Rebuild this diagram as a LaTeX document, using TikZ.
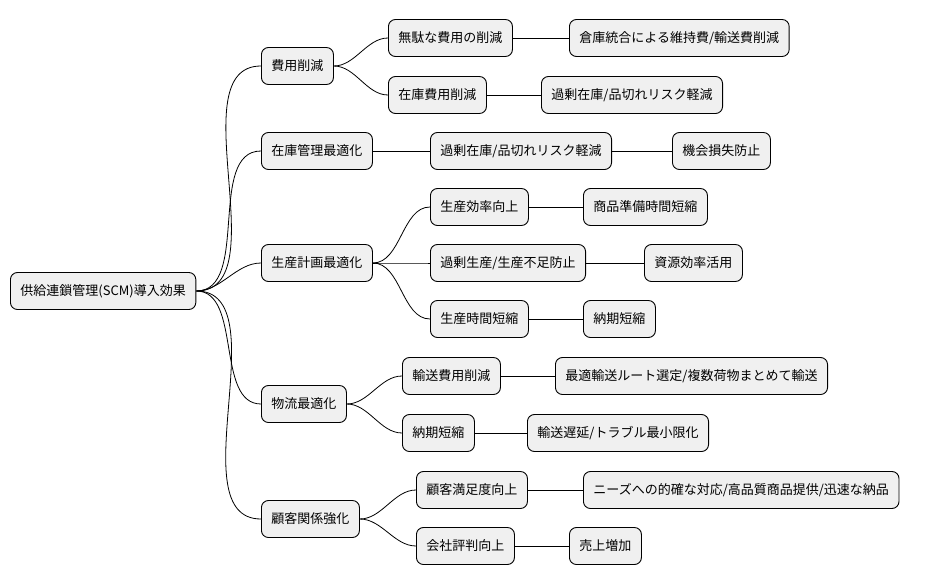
\documentclass[tikz,border=0pt]{standalone}
\usepackage{fontspec}
\setmainfont{Noto Sans CJK JP}
\begin{document}
\begin{tikzpicture}[x=1pt,y=-1pt,
  box/.style={draw=black,line width=0.9pt,fill=gray!12,rounded corners=7pt,minimum height=37pt,inner xsep=10pt,anchor=west,font=\fontsize{13}{15}\selectfont},
  ln/.style={line width=0.8pt},
  cv/.style={line width=0.8pt,out=0,in=180,looseness=0.9}]
\useasboundingbox (0,0) rectangle (932,583);
\node[box] (r) at (10,291) {供給連鎖管理(SCM)導入効果};
\node[box] (a) at (261,66) {費用削減};
\node[box] (b) at (261,151) {在庫管理最適化};
\node[box] (c) at (261,263) {生産計画最適化};
\node[box] (d) at (261,404) {物流最適化};
\node[box] (e) at (261,519) {顧客関係強化};
\node[box] (a1) at (388,38) {無駄な費用の削減};
\node[box] (a2) at (388,95) {在庫費用削減};
\node[box] (b1) at (430,151) {過剰在庫/品切れリスク軽減};
\node[box] (c1) at (430,207) {生産効率向上};
\node[box] (c2) at (430,263) {過剰生産/生産不足防止};
\node[box] (c3) at (430,319) {生産時間短縮};
\node[box] (d1) at (402,376) {輸送費用削減};
\node[box] (d2) at (402,433) {納期短縮};
\node[box] (e1) at (416,490) {顧客満足度向上};
\node[box] (e2) at (416,546) {会社評判向上};
\node[box] (a11) at (569,38) {倉庫統合による維持費/輸送費削減};
\node[box] (a21) at (541,95) {過剰在庫/品切れリスク軽減};
\node[box] (b11) at (672,151) {機会損失防止};
\node[box] (c11) at (583,207) {商品準備時間短縮};
\node[box] (c21) at (644,263) {資源効率活用};
\node[box] (c31) at (583,319) {納期短縮};
\node[box] (d11) at (555,376) {最適輸送ルート選定/複数荷物まとめて輸送};
\node[box] (d21) at (527,433) {輸送遅延/トラブル最小限化};
\node[box] (e11) at (583,490) {ニーズへの的確な対応/高品質商品提供/迅速な納品};
\node[box] (e21) at (569,546) {売上増加};
\foreach \p/\c in {r/a,r/b,r/c,r/d,r/e,a/a1,a/a2,c/c1,c/c2,c/c3,d/d1,d/d2,e/e1,e/e2}
  \draw[cv] (\p.east) to (\c.west);
\foreach \p/\c in {b/b1,a1/a11,a2/a21,b1/b11,c1/c11,c2/c21,c3/c31,d1/d11,d2/d21,e1/e11,e2/e21}
  \draw[ln] (\p.east) -- (\c.west);
\end{tikzpicture}
\end{document}
